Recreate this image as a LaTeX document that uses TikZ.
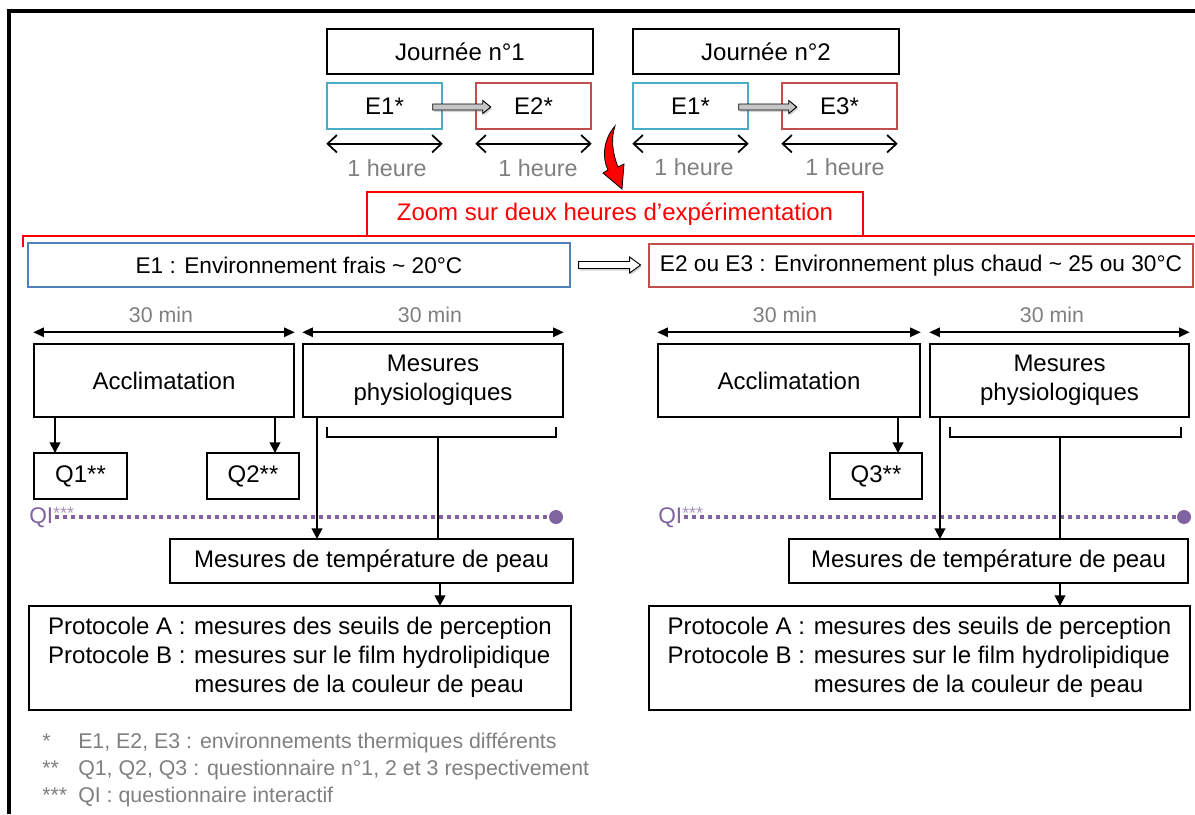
\documentclass[tikz,border=0pt]{standalone}
\usepackage{fontspec}
\setmainfont{Liberation Sans}
\usetikzlibrary{arrows.meta, shadows}

\definecolor{coolcyan}{HTML}{4BACC6}
\definecolor{warmred}{HTML}{C0504D}
\definecolor{coolblue}{HTML}{4F81BD}
\definecolor{qipurple}{HTML}{8064A2}
\definecolor{notegray}{HTML}{7F7F7F}

\tikzset{
  wh/.style 2 args={minimum width=#1*0.75pt, minimum height=#2*0.75pt},
  box/.style={draw, line width=1.1pt, inner sep=0pt, align=center, font=\fontsize{18}{21.75}\selectfont},
  envbox/.style={box, line width=0.9pt, font=\fontsize{17}{20}\selectfont},
  dur/.style={text=notegray, font=\fontsize{17.5}{20}\selectfont},
  half/.style={text=notegray, font=\fontsize{16}{19}\selectfont},
  hourarr/.style={line width=1.3pt, {Straight Barb[length=7pt,width=13pt]}-{Straight Barb[length=7pt,width=13pt]}},
  minarr/.style={line width=1.4pt, {Triangle[length=8pt,width=7pt]}-{Triangle[length=8pt,width=7pt]}},
  arr/.style={line width=1.4pt, -{Triangle[length=8pt,width=8pt]}},
  link/.style={line width=1.3pt},
  blkpath/.style={draw, line width=0.7pt, line join=miter,
    drop shadow={shadow xshift=1pt, shadow yshift=-1.5pt, opacity=0.35}},
  qi/.style={text=qipurple, font=\fontsize{17}{20}\selectfont, inner sep=0pt, anchor=west},
  qiline/.style={qipurple, line width=3pt, dash pattern=on 3pt off 3pt},
  qidot/.style={circle, fill=qipurple, inner sep=0pt, minimum size=10.5pt},
}

\begin{document}
\begin{tikzpicture}[x=0.75pt, y=-0.75pt]
\useasboundingbox (0,0) rectangle (1195,814);
\draw[line width=2.3pt] (9,814) -- (9,11) -- (1195,11);

% the two days
\node[box, wh={266}{45}] (j1) at (460,51.5) {Journée n°1};
\node[box, wh={266}{45}] (j2) at (766,51.5) {Journée n°2};
\node[box, draw=coolcyan, wh={115}{46}] (e1a) at (384.5,106) {E1*};
\node[box, draw=warmred, wh={115}{46}] (e2a) at (533.5,106) {E2*};
\node[box, draw=coolcyan, wh={115}{46}] (e1b) at (690.5,106) {E1*};
\node[box, draw=warmred, wh={115}{46}] (e3b) at (839.5,106) {E3*};
\draw[blkpath, fill=gray!45, shift={(e1a.east)}] (-10,-2) -- (40,-2) -- (40,-5.5) -- (48,1) -- (40,7.5) -- (40,4) -- (-10,4) -- cycle;
\draw[blkpath, fill=gray!45, shift={(e1b.east)}] (-10,-2) -- (40,-2) -- (40,-5.5) -- (48,1) -- (40,7.5) -- (40,4) -- (-10,4) -- cycle;
\draw[hourarr] ([yshift=-10.5pt]e1a.south west) -- ([yshift=-10.5pt]e1a.south east);
\draw[hourarr] ([yshift=-10.5pt]e2a.south west) -- ([yshift=-10.5pt]e2a.south east);
\draw[hourarr] ([yshift=-10.5pt]e1b.south west) -- ([yshift=-10.5pt]e1b.south east);
\draw[hourarr] ([yshift=-10.5pt]e3b.south west) -- ([yshift=-10.5pt]e3b.south east);
\node[dur] (h1) at (387,168) {1 heure};
\node[dur] (h2) at (538,168) {1 heure};
\node[dur] (h3) at (694,167) {1 heure};
\node[dur] (h4) at (845,167) {1 heure};

% zoom
\draw[fill=red, line width=0.6pt] (615,126) .. controls (603,140) and (602,158) .. (608,170)
  -- (603,173) -- (622,189) -- (624,164) -- (618,167) .. controls (612,152) and (611,138) .. (615,126) -- cycle;
\draw[red, line width=1.3pt] (23,247) -- (23,236) -- (1195,236);
\node[box, draw=red, text=red, line width=1.5pt, fill=white, wh={496}{44}] (zoom) at (615,214) {Zoom sur deux heures d’expérimentation};

\node[envbox, draw=coolblue, wh={542}{44}] (env1) at (299,265) {E1 : Environnement frais \textasciitilde{} 20°C};
\node[envbox, draw=warmred, wh={544}{43}] (env2) at (921,265.5) {E2 ou E3 : Environnement plus chaud \textasciitilde{} 25 ou 30°C};
\draw[blkpath, fill=white, shift={(env1.east)}] (8,-3.5) -- (59,-3.5) -- (59,-8) -- (70,0) -- (59,8) -- (59,3.5) -- (8,3.5) -- cycle;

% E1 side
\node[box, wh={260}{73}] (acc1) at (164,380.5) {Acclimatation};
\node[box, wh={260}{73}] (mes1) at (433,380.5) {Mesures\\physiologiques};
\draw[minarr] ([yshift=8.25pt]acc1.north west) -- ([yshift=8.25pt]acc1.north east);
\draw[minarr] ([yshift=8.25pt]mes1.north west) -- ([yshift=8.25pt]mes1.north east);
\node[half] (m1) at (161,315) {30 min};
\node[half] (m2) at (430,315) {30 min};
\node[box, wh={93}{46}] (q1) at (80.5,476) {Q1**};
\node[box, wh={92}{46}] (q2) at (253,476) {Q2**};
\coordinate (q1in) at (55,453);
\coordinate (q2in) at (275,453);
\draw[arr] (acc1.south -| q1in) -- (q1in);
\draw[arr] (acc1.south -| q2in) -- (q2in);
\node[qi] (qi1) at (29,517) {QI\raisebox{3pt}{\color{qipurple!70}\fontsize{13.5}{13.5}\selectfont***}};
\node[qidot] (d1) at (556,517) {};
\draw[qiline] ([xshift=19.5pt]qi1.west) -- (d1);
\node[box, wh={403}{44}] (t1) at (371.5,561) {Mesures de température de peau};
\coordinate (t1in) at (317,539);
\draw[arr] (mes1.south -| t1in) -- (t1in);
\draw[link] (327,427) -- (327,437) -- (556,437) -- (556,427);
\coordinate (b1) at (438,437);
\draw[link] (b1) -- (t1.north -| b1);
\node[box, wh={542}{104}] (p1) at (300,658) {\begin{tabular}{@{}l@{\hspace{6.5pt}}l@{}}
Protocole A : & mesures des seuils de perception\\
Protocole B : & mesures sur le film hydrolipidique\\
 & mesures de la couleur de peau
\end{tabular}};
\coordinate (p1in) at (440,606);
\draw[arr] (t1.south -| p1in) -- (p1in);

% E2 / E3 side
\node[box, wh={262}{73}] (acc2) at (789,380.5) {Acclimatation};
\node[box, wh={259}{73}] (mes2) at (1059.5,380.5) {Mesures\\physiologiques};
\draw[minarr] ([yshift=8.25pt]acc2.north west) -- ([yshift=8.25pt]acc2.north east);
\draw[minarr] ([yshift=8.25pt]mes2.north west) -- ([yshift=8.25pt]mes2.north east);
\node[half] (m3) at (785,315) {30 min};
\node[half] (m4) at (1052,315) {30 min};
\node[box, wh={92}{46}] (q3) at (876,476) {Q3**};
\coordinate (q3in) at (898,453);
\draw[arr] (acc2.south -| q3in) -- (q3in);
\node[qi] (qi2) at (658,517) {QI\raisebox{3pt}{\color{qipurple!70}\fontsize{13.5}{13.5}\selectfont***}};
\node[qidot] (d2) at (1184,517) {};
\draw[qiline] ([xshift=19.5pt]qi2.west) -- (d2);
\node[box, wh={399}{44}] (t2) at (988.5,561) {Mesures de température de peau};
\coordinate (t2in) at (940,539);
\draw[arr] (mes2.south -| t2in) -- (t2in);
\draw[link] (950,427) -- (950,437) -- (1181,437) -- (1181,427);
\coordinate (b2) at (1060,437);
\draw[link] (b2) -- (t2.north -| b2);
\node[box, wh={541}{104}] (p2) at (919.5,658) {\begin{tabular}{@{}l@{\hspace{6.5pt}}l@{}}
Protocole A : & mesures des seuils de perception\\
Protocole B : & mesures sur le film hydrolipidique\\
 & mesures de la couleur de peau
\end{tabular}};
\coordinate (p2in) at (1060,606);
\draw[arr] (t2.south -| p2in) -- (p2in);

% notes
\node[anchor=west, text=notegray, inner sep=0pt, font=\fontsize{16}{20.25}\selectfont] (notes) at (42,770) {\begin{tabular}{@{}p{27pt}@{}l@{}}
{*} & E1, E2, E3 : environnements thermiques différents\\
{**} & Q1, Q2, Q3 : questionnaire n°1, 2 et 3 respectivement\\
{***} & QI : questionnaire interactif
\end{tabular}};
\end{tikzpicture}
\end{document}
